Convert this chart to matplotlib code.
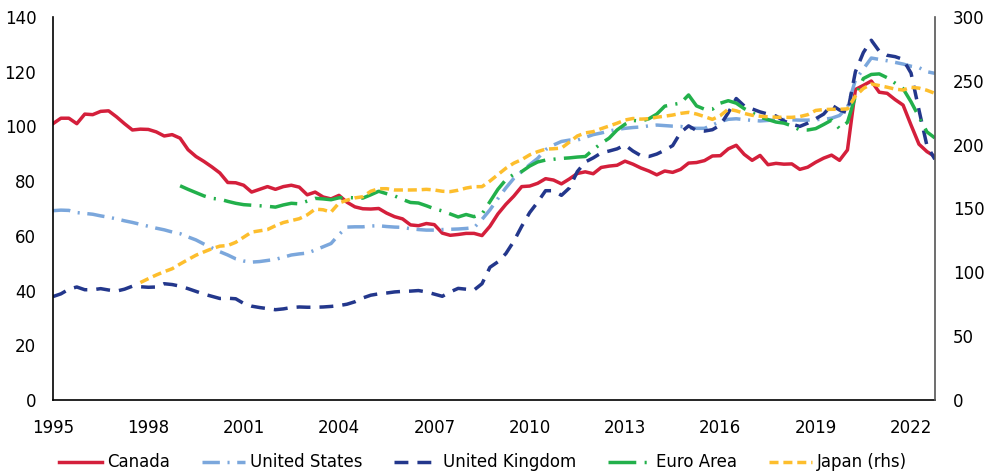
import numpy as np
import matplotlib
matplotlib.use("Agg")
import matplotlib.pyplot as plt

# =================================
# DATA (quarterly, 1995Q1 - 2022Q4)
# =================================

years = [1995, 1998, 2001, 2004, 2007, 2010, 2013, 2016, 2019, 2022]

canada = [101, 103, 103, 101, 104.5, 104.3, 105.5, 105.7, 103.5, 101,
          98.7, 99, 98.9, 98, 96.5, 97, 95.7, 91.5, 89, 87.2,
          85.2, 83, 79.5, 79.4, 78.5, 76, 77, 78, 77, 78,
          78.5, 77.8, 75, 76, 74.2, 73.5, 74.8, 72.3, 70.6, 69.9,
          69.8, 70, 68.3, 67, 66.2, 64, 63.7, 64.5, 64.1, 61,
          60.2, 60.5, 60.9, 60.9, 60.1, 63.5, 68, 71.5, 74.5, 78,
          78.2, 79.2, 80.9, 80.4, 79, 80.8, 82.8, 83.4, 82.7, 85,
          85.5, 85.8, 87.3, 86.2, 84.8, 83.7, 82.3, 83.7, 83.2, 84.3,
          86.6, 86.8, 87.5, 89.2, 89.3, 91.8, 93.1, 89.8, 87.6, 89.4,
          86, 86.5, 86.2, 86.3, 84.3, 85.1, 86.9, 88.4, 89.5, 87.6,
          91.4, 113.5, 115, 116.6, 112.5, 112.1, 109.8, 107.8, 100.5, 93.5,
          90.8, 89]

united_states = [69.2, 69.4, 69.3, 68.5, 68.2, 67.9, 67.3, 66.8, 66.2, 65.5,
                 64.9, 64.2, 63.5, 62.8, 62.2, 61.4, 60.8, 59.6, 58.5, 57,
                 55.6, 54.2, 53, 51.6, 50.8, 50.4, 50.6, 51, 51.4, 52.2,
                 53, 53.4, 53.7, 54.8, 56, 57.2, 60.5, 63.2, 63.3, 63.3,
                 63.6, 63.7, 63.4, 63.2, 63.1, 62.6, 62.3, 62.1, 62.1, 62.3,
                 62.4, 62.5, 62.7, 63, 66, 69.5, 73.6, 77.5, 81, 83.5,
                 86, 88.3, 91.5, 93.2, 94.5, 95, 95, 96, 97, 97.6,
                 98.3, 98.9, 99.3, 99.6, 99.8, 100.2, 100.5, 100.3, 100.1, 100,
                 99.5, 99.3, 99.3, 100.5, 101.8, 102.6, 102.8, 102.5, 102.2, 102,
                 102.2, 102.4, 102.5, 102.4, 102.3, 102.3, 102.5, 102.6, 103, 104,
                 107, 117, 121, 125, 124.5, 124, 123.4, 122.8, 122, 121.5,
                 120, 119.4]

united_kingdom = [37.8, 38.8, 40.5, 41.3, 40.3, 40.3, 40.7, 40.2, 39.8, 40.5,
                  41.6, 41.4, 41.2, 41.3, 42.5, 42.2, 41.6, 40.7, 39.7, 38.7,
                  37.9, 37.1, 37.2, 37, 35.3, 34.3, 33.8, 33.4, 33, 33.3,
                  33.8, 34, 33.9, 33.9, 34, 34.2, 34.5, 35, 35.9, 37.3,
                  38.3, 38.8, 39.1, 39.5, 39.7, 39.8, 40, 39.5, 38.7, 37.9,
                  39.5, 40.8, 40.5, 40.2, 42.5, 48.5, 50.5, 53.5, 58, 63.5,
                  68.5, 72.3, 76.5, 76.5, 74.8, 77.5, 83.5, 87, 88.5, 90.3,
                  91, 91.8, 93.2, 91, 89.3, 89, 89.9, 91.3, 93, 97.8,
                  100.2, 98.5, 98.3, 98.8, 100.5, 105, 110.2, 107.5, 106.4, 105.3,
                  104.5, 103.8, 102, 100.8, 100, 101.2, 102.8, 104.5, 107.8, 106,
                  105, 120, 127, 131.5, 127.5, 126, 125.5, 124.5, 119.5, 106,
                  93, 88]

# euro area starts 1999Q1
euro_area = [np.nan] * 16 + [
    78.3, 77, 75.8, 74.6, 73.7, 73.4, 72.6, 71.9, 71.4, 71.2,
    71, 70.8, 70.5, 71.3, 71.9, 71.7, 72.7, 73.7, 73.5, 73.2,
    73.9, 74, 73.9, 73.8, 75, 76.3, 75.4, 74.6, 73.3, 72.2,
    72, 71, 69.9, 69.1, 68, 66.9, 67.8, 67, 68, 72.5,
    77, 80.5, 82.5, 83.5, 85.5, 87, 87.7, 88, 88.3, 88.5,
    88.8, 89, 91.5, 93.8, 95.7, 98.7, 100.8, 102.2, 101.9, 102.8,
    104.5, 107.4, 108, 108.5, 111.5, 107.5, 106.3, 106.3, 108.5, 109.4,
    108.5, 106.5, 105, 103.4, 102.5, 101.6, 101.2, 100.2, 98.7, 98.7,
    99.2, 100.7, 102.3, 99.2, 101.5, 111, 117.5, 119, 119.2, 117.8,
    115.8, 113.8, 109, 103.5, 98, 95.8]

# japan starts 1997Q4, right hand scale
japan = [np.nan] * 11 + [
    92, 95, 97.9, 100.5, 102.8, 106.5, 110, 113.4, 116, 118.5,
    120.5, 121, 123.5, 127.5, 131.5, 132.5, 133.5, 136.5, 139, 140.5,
    142, 145, 149.5, 149, 147.2, 154.3, 156.5, 158.3, 159.2, 163.5,
    165.5, 165.5, 164.5, 164.5, 164.5, 164.6, 165, 164.5, 163.5, 163.2,
    164.3, 166, 167.1, 167.1, 171.5, 176.5, 181.5, 185.5, 188.3, 192,
    194.5, 196.5, 196.8, 197.3, 202, 206.8, 209.2, 210.2, 212.5, 214.6,
    216.8, 219.3, 220.5, 220, 220.3, 221.5, 222.3, 223.2, 224.5, 225.3,
    224, 222, 219.8, 222.8, 227.8, 226.5, 224.5, 223, 222.3, 221.8,
    221.5, 221.4, 221.4, 222, 223.5, 226.8, 227.5, 227.7, 227.7, 228,
    238, 244, 247.5, 246.3, 245, 243.5, 242.8, 244.9, 244.3, 242.6,
    240.2]

# =================================
# CHART
# =================================

plt.rcParams["font.family"] = ["DejaVu Sans"]

q = np.arange(len(canada))

fig = plt.figure(figsize=(9.92, 4.76), dpi=100)
ax = fig.add_axes([0.0534, 0.1597, 0.889, 0.8046])
ax2 = ax.twinx()

lw = 2.5
l1, = ax.plot(q, canada, color="#D41F3B", lw=lw, label="Canada")
l2, = ax.plot(q, united_states, color="#7BA7DC", lw=lw,
              dashes=(5, 2.2, 0.6, 2.2), label="United States")
l3, = ax.plot(q, united_kingdom, color="#23378C", lw=lw,
              dashes=(4, 2.6), label="United Kingdom")
l4, = ax.plot(q, euro_area, color="#22B04B", lw=lw,
              dashes=(8, 2.4, 0.6, 2.4), label="Euro Area")
l5, = ax2.plot(q, japan, color="#FDBE2D", lw=lw,
               dashes=(2.6, 1.4), label="Japan (rhs)")

ax.set_xlim(0, len(canada) - 1)
ax.set_ylim(0, 140)
ax2.set_ylim(0, 300)
ax.set_yticks(range(0, 141, 20))
ax2.set_yticks(range(0, 301, 50))
ax.set_xticks([(y - 1995) * 4 for y in years])
ax.set_xticklabels([str(y) for y in years])

for a in (ax, ax2):
    a.tick_params(length=0, labelsize=12, colors="black")
    a.spines["top"].set_visible(False)
ax.tick_params(axis="x", pad=14)
ax.tick_params(axis="y", pad=12)
ax2.tick_params(axis="y", pad=13)
ax.spines["right"].set_visible(False)
ax2.spines["left"].set_visible(False)
ax2.spines["bottom"].set_visible(False)
ax.spines["left"].set_linewidth(1.2)
ax.spines["bottom"].set_linewidth(1.2)
ax2.spines["right"].set_color("#555555")
ax2.spines["right"].set_linewidth(1.2)

fig.legend(handles=[l1, l2, l3, l4, l5], loc="lower center",
           bbox_to_anchor=(0.487, -0.022), ncol=5, frameon=False,
           fontsize=12, handlelength=2.6, columnspacing=1.9, handletextpad=0.3)

plt.savefig("out.png", dpi=100)
